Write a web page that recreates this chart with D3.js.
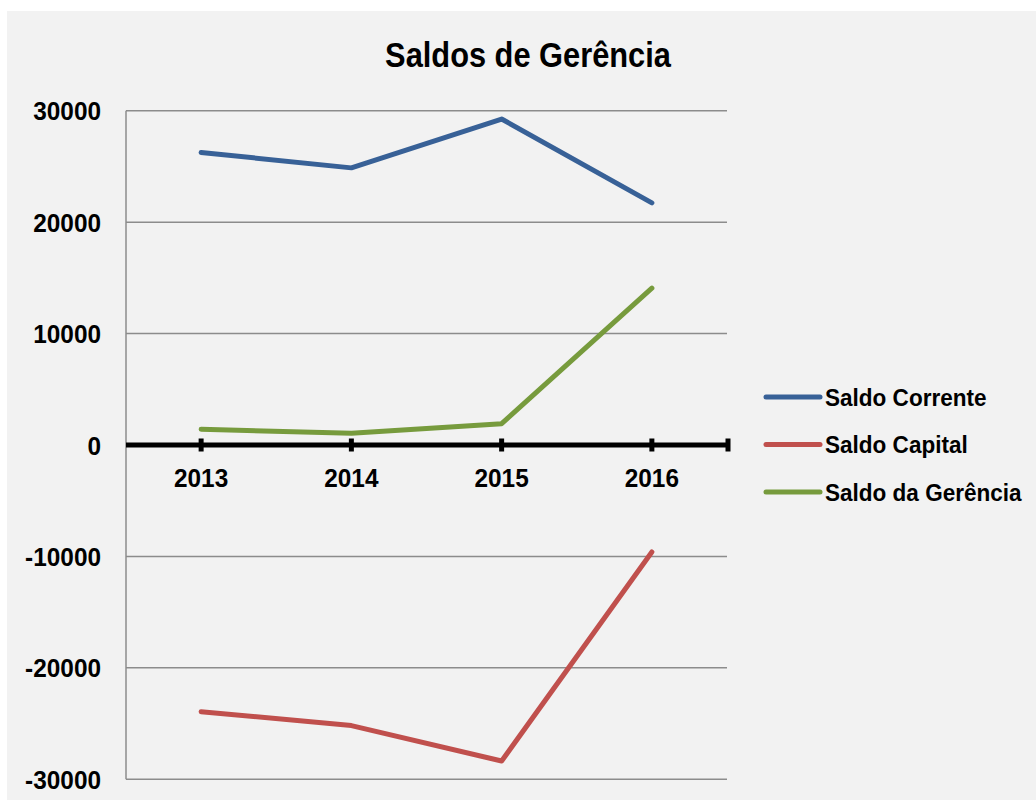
<!DOCTYPE html>
<html>
<head>
<meta charset="utf-8">
<script src="https://cdn.jsdelivr.net/npm/d3@7"></script>
<style>
  html, body { margin: 0; padding: 0; background: #ffffff; }
  text { font-family: "Liberation Sans", Arial, sans-serif; font-weight: bold; fill: #000; }
</style>
</head>
<body>
<div id="chart"></div>
<script>
// data
var years = ["2013", "2014", "2015", "2016"];
var saldoCorrente = [26250, 24870, 29250, 21730];
var saldoCapital = [-23930, -25180, -28360, -9600];
var saldoGerencia = [1410, 1050, 1910, 14080];
var seriesNames = ["Saldo Corrente", "Saldo Capital", "Saldo da Gerência"];
var seriesColors = ["#386197", "#c0504d", "#779b3d"];
var yTicks = [-30000, -20000, -10000, 0, 10000, 20000, 30000];

const W = 1036, H = 800;
const plot = {left: 126, right: 727, top: 110.7, bottom: 779.3};
// the original font is a narrow bold, squeeze the text a bit
const squeeze = 0.92;

var svg = d3.select("#chart").append("svg")
    .attr("width", W)
    .attr("height", H);

// chart area background
svg.append("rect")
    .attr("x", 7).attr("y", 11)
    .attr("width", W - 7).attr("height", H - 11)
    .attr("fill", "#f2f2f2");

var x = d3.scaleBand().domain(years).range([plot.left, plot.right]).padding(0);
var y = d3.scaleLinear().domain([-30000, 30000]).range([plot.bottom, plot.top]);
var cx = function(d) { return x(d) + x.bandwidth() / 2; };

// gridlines
svg.append("g")
    .selectAll("line")
    .data(yTicks.filter(function(d) { return d != 0; }))
    .join("line")
    .attr("x1", plot.left).attr("x2", plot.right)
    .attr("y1", function(d) { return y(d); })
    .attr("y2", function(d) { return y(d); })
    .attr("stroke", "#8c8c8c")
    .attr("stroke-width", 1.5);

// y axis line
svg.append("line")
    .attr("x1", plot.left).attr("x2", plot.left)
    .attr("y1", plot.top).attr("y2", plot.bottom)
    .attr("stroke", "#8c8c8c")
    .attr("stroke-width", 1.5);

// y labels
svg.append("g")
    .selectAll("text")
    .data(yTicks)
    .join("text")
    .attr("transform", function(d) { return "translate(101," + y(d) + ") scale(" + squeeze + ",1)"; })
    .attr("dy", "0.36em")
    .attr("text-anchor", "end")
    .style("font-size", "26.5px")
    .text(function(d) { return d; });

// zero axis (black, thick) with tick marks
svg.append("line")
    .attr("x1", plot.left).attr("x2", plot.right + 3)
    .attr("y1", y(0)).attr("y2", y(0))
    .attr("stroke", "#000")
    .attr("stroke-width", 5);

var tickPos = years.map(cx).concat([plot.right + 1]);
svg.append("g")
    .selectAll("line")
    .data(tickPos)
    .join("line")
    .attr("x1", function(d) { return d; })
    .attr("x2", function(d) { return d; })
    .attr("y1", y(0) - 6.5).attr("y2", y(0) + 6.5)
    .attr("stroke", "#000")
    .attr("stroke-width", 5);

// x labels
svg.append("g")
    .selectAll("text")
    .data(years)
    .join("text")
    .attr("transform", function(d) { return "translate(" + cx(d) + ",487) scale(" + squeeze + ",1)"; })
    .attr("text-anchor", "middle")
    .style("font-size", "26.5px")
    .text(function(d) { return d; });

// lines
var allSeries = [saldoCorrente, saldoCapital, saldoGerencia];
var line = d3.line()
    .x(function(d, i) { return cx(years[i]); })
    .y(function(d) { return y(d); });

svg.append("g")
    .selectAll("path")
    .data(allSeries)
    .join("path")
    .attr("d", function(d) { return line(d); })
    .attr("fill", "none")
    .attr("stroke", function(d, i) { return seriesColors[i]; })
    .attr("stroke-width", 5)
    .attr("stroke-linecap", "round")
    .attr("stroke-linejoin", "round");

// title
svg.append("text")
    .attr("transform", "translate(528,67) scale(0.88,1)")
    .attr("text-anchor", "middle")
    .style("font-size", "35px")
    .text("Saldos de Gerência");

// legend
var legend = svg.append("g")
    .selectAll("g")
    .data(seriesNames)
    .join("g")
    .attr("transform", function(d, i) { return "translate(766," + (397 + i * 47.5) + ")"; });

legend.append("line")
    .attr("x1", 0).attr("x2", 54)
    .attr("y1", 0).attr("y2", 0)
    .attr("stroke", function(d, i) { return seriesColors[i]; })
    .attr("stroke-width", 5)
    .attr("stroke-linecap", "round");

legend.append("text")
    .attr("transform", "translate(59,0) scale(" + squeeze + ",1)")
    .attr("dy", "0.36em")
    .style("font-size", "24.5px")
    .text(function(d) { return d; });
</script>
</body>
</html>
